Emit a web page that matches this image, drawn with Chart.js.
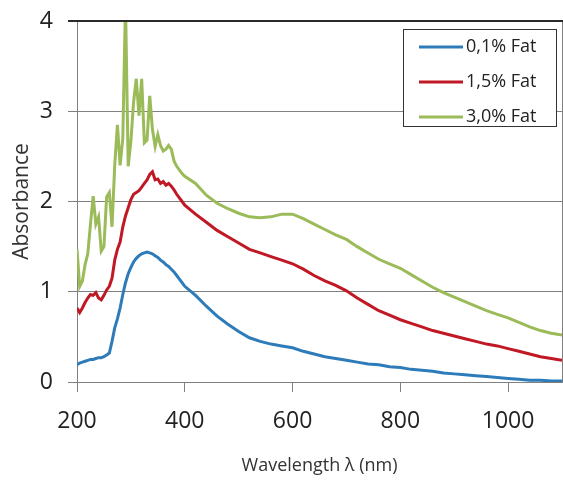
<!DOCTYPE html>
<html><head><meta charset="utf-8">
<script src="https://cdn.jsdelivr.net/npm/chart.js@4/dist/chart.umd.min.js"></script>
<style>html,body{margin:0;padding:0;background:#fff;}</style>
</head><body>
<canvas id="c" width="563" height="481" style="display:block;width:563px;height:481px"></canvas>
<script>
const wavelengths = [200,205,210,215,220,225,230,235,240,245,
250,255,260,265,270,275,280,285,290,295,
300,305,310,315,320,325,330,335,340,345,
350,355,360,365,370,375,380,385,390,395,
400,
420,440,460,480,500,520,540,560,580,600,
620,640,660,680,700,720,740,760,780,800,
820,840,860,880,900,920,940,960,980,1000,
1020,1040,1060,1080,1100];

const fat01 = [0.19,0.21,0.22,0.23,0.24,0.25,0.25,0.26,0.27,0.27,
0.28,0.30,0.32,0.45,0.60,0.70,0.82,0.97,1.10,1.20,
1.27,1.33,1.37,1.40,1.42,1.43,1.44,1.43,1.42,1.40,
1.38,1.35,1.33,1.30,1.28,1.25,1.22,1.18,1.14,1.10,
1.06,
0.96,0.84,0.73,0.64,0.56,0.49,0.45,0.42,0.40,0.38,
0.34,0.31,0.28,0.26,0.24,0.22,0.20,0.19,0.17,0.16,
0.14,0.13,0.12,0.10,0.09,0.08,0.07,0.06,0.05,0.04,
0.03,0.02,0.02,0.01,0.01];

const fat15 = [0.82,0.77,0.82,0.88,0.93,0.97,0.96,0.99,0.93,0.91,
0.96,1.02,1.06,1.15,1.35,1.47,1.55,1.72,1.84,1.93,
2.02,2.08,2.10,2.12,2.16,2.20,2.24,2.30,2.33,2.24,
2.25,2.20,2.22,2.18,2.20,2.17,2.13,2.08,2.04,2.00,
1.96,
1.86,1.77,1.68,1.61,1.54,1.47,1.43,1.39,1.35,1.31,
1.25,1.18,1.12,1.07,1.01,0.93,0.86,0.79,0.74,0.69,
0.65,0.61,0.57,0.54,0.51,0.48,0.45,0.42,0.40,0.37,
0.34,0.31,0.28,0.26,0.24];

const fat30 = [1.47,1.06,1.12,1.30,1.42,1.75,2.06,1.75,1.83,1.45,
1.50,2.05,2.10,1.72,2.40,2.85,2.40,2.70,4.20,2.39,
2.67,3.10,3.36,2.95,3.36,2.65,2.68,3.17,2.80,2.61,
2.74,2.62,2.56,2.58,2.62,2.58,2.45,2.39,2.35,2.31,
2.28,
2.20,2.07,1.98,1.92,1.87,1.83,1.82,1.83,1.86,1.86,
1.81,1.75,1.69,1.63,1.58,1.50,1.43,1.36,1.31,1.26,
1.19,1.12,1.05,0.99,0.94,0.89,0.84,0.79,0.75,0.71,
0.66,0.61,0.57,0.54,0.52];

const seriesNames = ['0,1% Fat','1,5% Fat','3,0% Fat'];
const seriesColors = ['#2E7BBA','#C01824','#9BBB59'];
const seriesValues = [fat01, fat15, fat30];
const xTicks = [200,400,600,800,1000];
const yTicks = [0,1,2,3,4];

const datasets = seriesValues.map((vals,i)=>({
  label: seriesNames[i],
  data: wavelengths.map((w,j)=>({x:w,y:vals[j]})),
  borderColor: seriesColors[i],
  backgroundColor: seriesColors[i],
  borderWidth: 3,
  pointRadius: 0,
  tension: 0,
  fill: false
}));

const tickFont = {family:"'Open Sans',sans-serif", size:23};
const GRID = '#808080';

const framePlugin = {
  id:'topFrame',
  afterDatasetsDraw(chart){
    const ctx = chart.ctx, ca = chart.chartArea, ys = chart.scales.y;
    const y = Math.round(ys.getPixelForValue(ys.max));
    ctx.save();
    ctx.strokeStyle = '#2a2a2a';
    ctx.lineWidth = 2;
    ctx.beginPath();
    ctx.moveTo(ca.left - 9, y);
    ctx.lineTo(ca.right + 1, y);
    ctx.stroke();
    ctx.restore();
  }
};

const legendPlugin = {
  id:'boxLegend',
  afterDraw(chart){
    const ctx = chart.ctx, ca = chart.chartArea;
    const left = ca.right - 159, top = ca.top + 8, w = 153, h = 97;
    ctx.save();
    ctx.fillStyle = '#fff';
    ctx.fillRect(left, top, w, h);
    ctx.strokeStyle = '#333';
    ctx.lineWidth = 1;
    ctx.strokeRect(left+0.5, top+0.5, w, h);
    ctx.font = "18px 'Open Sans', sans-serif";
    ctx.textBaseline = 'middle';
    ctx.textAlign = 'left';
    chart.data.datasets.forEach((ds,i)=>{
      const y = top + 18 + i*35;
      ctx.strokeStyle = ds.borderColor;
      ctx.lineWidth = 3;
      ctx.beginPath();
      ctx.moveTo(left+16, y);
      ctx.lineTo(left+60, y);
      ctx.stroke();
      ctx.fillStyle = '#222';
      ctx.fillText(ds.label, left+63, y);
    });
    ctx.restore();
  }
};

new Chart(document.getElementById('c'), {
  type:'line',
  data:{datasets},
  options:{
    responsive:false,
    animation:false,
    devicePixelRatio:1,
    layout:{padding:{top:21,right:0,bottom:0,left:0}},
    plugins:{legend:{display:false}, tooltip:{enabled:false}},
    scales:{
      x:{
        type:'linear', min:200, max:1100,
        afterBuildTicks(scale){ scale.ticks = xTicks.map(v=>({value:v})); },
        afterFit(scale){ scale.height = 99; scale.paddingLeft = 0; scale.paddingRight = 0; },
        grid:{drawOnChartArea:false, drawTicks:true, tickLength:10, color:GRID, lineWidth:1},
        border:{display:true, color:GRID, width:1},
        ticks:{font:tickFont, color:'#222', padding:16, maxRotation:0, autoSkip:false,
               callback:(v)=>String(v)},
        title:{display:true, text:'Wavelength λ (nm)', color:'#333',
               font:{family:"'Open Sans',sans-serif", size:18}, padding:{top:0,bottom:4}}
      },
      y:{
        type:'linear', min:0, max:4,
        afterBuildTicks(scale){ scale.ticks = yTicks.map(v=>({value:v})); },
        afterFit(scale){ scale.width = 77; scale.paddingTop = 0; scale.paddingBottom = 0; },
        grid:{display:true, drawOnChartArea:true, drawTicks:true, tickLength:9, color:GRID, lineWidth:1},
        border:{display:true, color:GRID, width:1},
        ticks:{font:tickFont, color:'#222', padding:15, callback:(v)=>String(v)},
        title:{display:true, text:'Absorbance', color:'#333',
               font:{family:"'Open Sans',sans-serif", size:21}, padding:{top:9,bottom:0}}
      },
      y2:{
        type:'linear', position:'right', min:0, max:4,
        afterFit(scale){ scale.width = 1; scale.paddingTop = 0; scale.paddingBottom = 0; },
        grid:{drawOnChartArea:false, drawTicks:false},
        border:{display:true, color:GRID, width:1},
        ticks:{display:false}
      }
    }
  },
  plugins:[framePlugin, legendPlugin]
});
</script>
</body></html>
